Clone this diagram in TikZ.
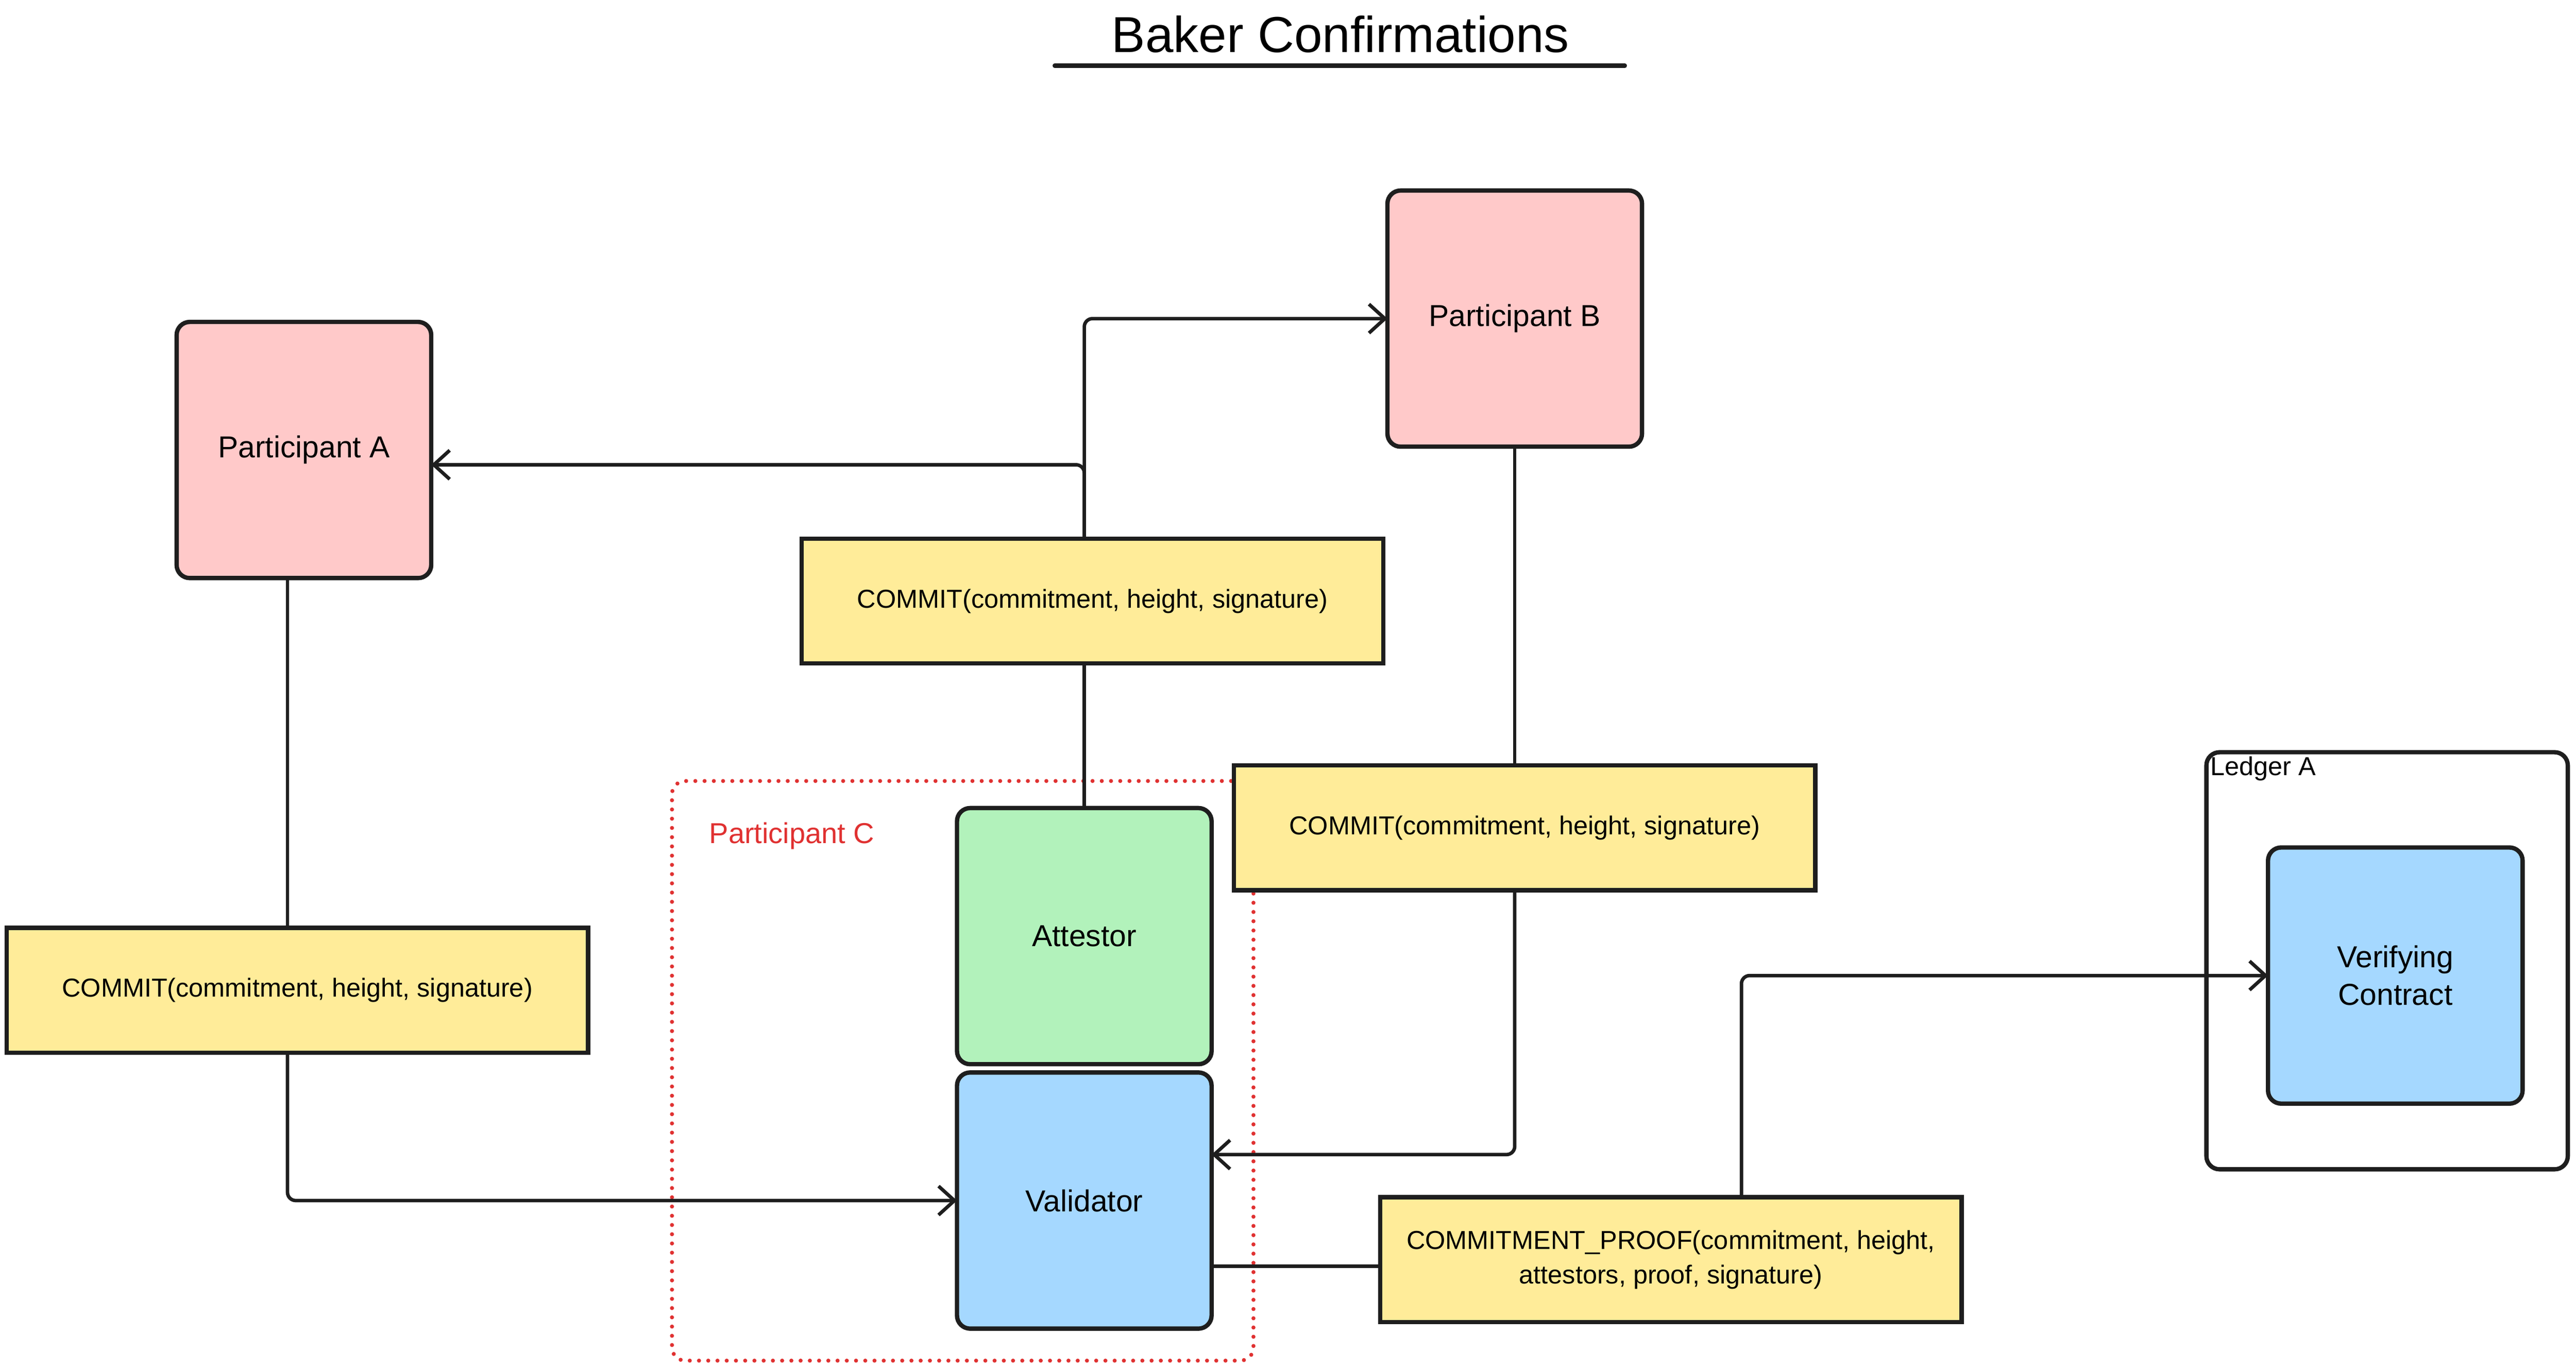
\documentclass[tikz,border=0pt]{standalone}
\usepackage{fontspec}
\setmainfont{Liberation Sans}
\usetikzlibrary{arrows.meta}
\definecolor{ink}{HTML}{1E1E1E}
\definecolor{pinkfill}{HTML}{FFC9C9}
\definecolor{yellowfill}{HTML}{FFEC99}
\definecolor{greenfill}{HTML}{B2F2BB}
\definecolor{bluefill}{HTML}{A5D8FF}
\definecolor{redink}{HTML}{E03131}
\begin{document}
\begin{tikzpicture}[x=0.02cm,y=-0.02cm,
  box/.style={draw=ink,line width=1.5pt,rounded corners=0.16cm,minimum width=3.1cm,minimum height=3.12cm,inner sep=0pt,outer sep=0pt,align=center,font=\fontsize{10.5}{13}\selectfont},
  msg/.style={draw=ink,line width=1.5pt,fill=yellowfill,minimum width=7.08cm,minimum height=1.52cm,inner sep=0pt,outer sep=0pt,align=center,font=\fontsize{9}{12}\selectfont},
  link/.style={draw=ink,line width=1.2pt,rounded corners=0.1cm},
  >={Straight Barb[length=5.5pt,width=10pt]}]
\fill[white](0,0) rectangle (1568,834);
\useasboundingbox (0,0) rectangle (1568,834);
% title
\node[font=\fontsize{17.5}{20}\selectfont] (title) at (816,21) {Baker Confirmations};
\draw[ink,line width=1.5pt,line cap=round] (642,40) -- (989,40);
% groups
\node[draw=redink,line width=1.4pt,dash pattern=on 0pt off 3.2pt,line cap=round,rounded corners=0.16cm,minimum width=7.08cm,minimum height=7.06cm] (groupC) at (586,652) {};
\node[text=redink,font=\fontsize{10}{12}\selectfont] (labelC) at (482,509) {Participant C};
\node[draw=ink,line width=1.5pt,rounded corners=0.16cm,minimum width=4.4cm,minimum height=5.08cm] (ledger) at (1453,585) {};
\node[anchor=north west,inner sep=2pt,font=\fontsize{9}{10}\selectfont] (ledgerLabel) at (ledger.north west) {Ledger A};
% participants and messages
\node[box,fill=pinkfill] (partA) at (185,274) {Participant A};
\node[box,fill=pinkfill] (partB) at (922,194) {Participant B};
\node[msg] (commitTop) at (665,366) {COMMIT(commitment, height, signature)};
\node[msg] (commitRight) at (928,504) {COMMIT(commitment, height, signature)};
\node[msg] (commitLeft) at (181,603) {COMMIT(commitment, height, signature)};
\node[box,fill=greenfill] (attestor) at (660,570) {Attestor};
\node[box,fill=bluefill] (validator) at (660,731) {Validator};
\node[msg] (proof) at (1017,767) {COMMITMENT\_PROOF(commitment, height,\\attestors, proof, signature)};
\node[box,fill=bluefill] (verify) at (1458,594) {Verifying\\Contract};
% connectors
\coordinate (downA) at (175,0);
\coordinate (upProof) at (1060,0);
\draw[link,->] (commitTop.north -| attestor) |- (partB);
\draw[link,->] (commitTop.north -| attestor) |- ([yshift=-0.18cm]partA.east);
\draw[link] (commitTop.south -| attestor) -- (attestor);
\draw[link] (partB) -- (partB |- commitRight.north);
\draw[link,->] (commitRight.south -| partB) |- ([yshift=0.56cm]validator.east);
\draw[link] (partA.south -| downA) -- (commitLeft.north -| downA);
\draw[link,->] (commitLeft.south -| downA) |- (validator);
\draw[link] ([yshift=-0.8cm]validator.east) coordinate (vOut) -- (vOut -| proof.west);
\draw[link,->] (proof.north -| upProof) |- (verify);
\end{tikzpicture}
\end{document}
